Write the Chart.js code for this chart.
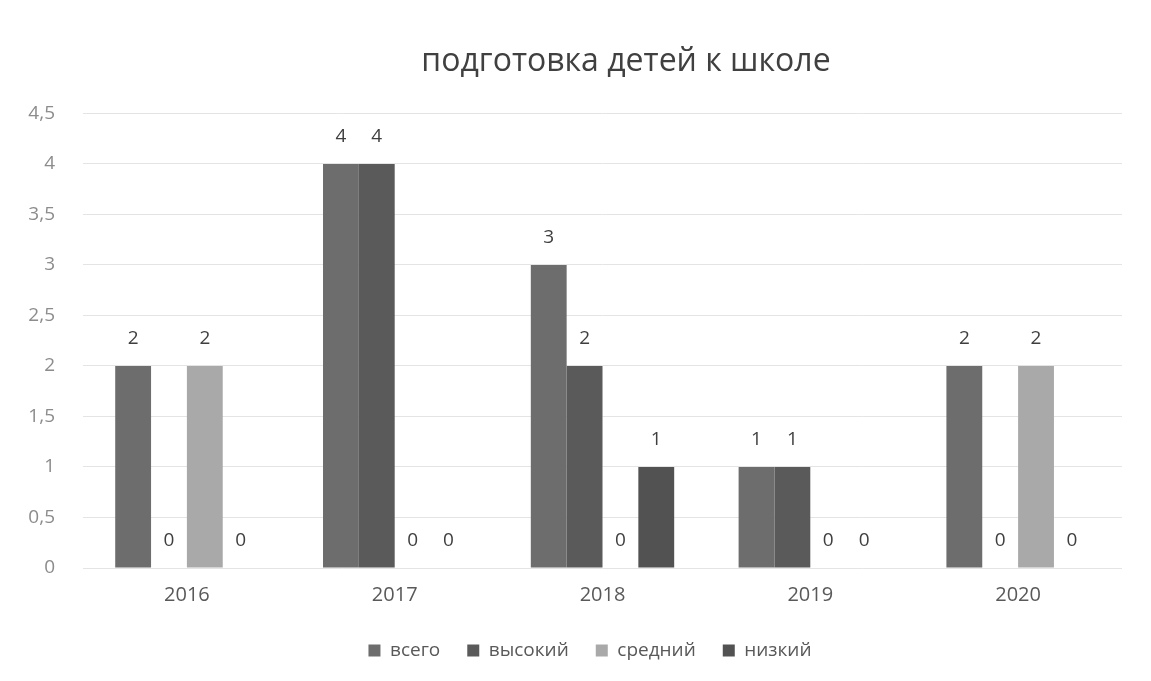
<!DOCTYPE html>
<html>
<head>
<meta charset="utf-8">
<script src="https://cdn.jsdelivr.net/npm/chart.js@4.4.0/dist/chart.umd.min.js"></script>
<style>
  html, body { margin: 0; padding: 0; background: #ffffff; overflow: hidden; }
  #wrap { position: relative; width: 1151px; height: 681px; }
</style>
</head>
<body>
<div id="wrap"><canvas id="chart"></canvas></div>
<script>
const years = ['2016', '2017', '2018', '2019', '2020']
const total = [2, 4, 3, 1, 2]
const high = [0, 4, 2, 1, 0]
const middle = [2, 0, 0, 0, 2]
const low = [0, 0, 1, 0, 0]
const yTicks = [0, 0.5, 1, 1.5, 2, 2.5, 3, 3.5, 4, 4.5]

const font = '"Open Sans", "Noto Sans", sans-serif'

// value labels above every bar, placed from the bar elements
const valueLabels = {
  id: 'valueLabels',
  afterDatasetsDraw(chart){
    const ctx = chart.ctx
    ctx.save()
    ctx.font = '19px ' + font
    ctx.fillStyle = '#3f3f3f'
    ctx.textAlign = 'center'
    ctx.textBaseline = 'middle'
    chart.data.datasets.forEach((ds, i) => {
      chart.getDatasetMeta(i).data.forEach((bar, j) => {
        ctx.fillText(String(ds.data[j]), bar.x, bar.y - 27)
      })
    })
    ctx.restore()
  }
}

// title and legend in the picture sit a little right of the canvas centre
const boxShift = {
  id: 'boxShift',
  afterLayout(chart){
    if (chart.titleBlock) chart.titleBlock.left += 130
    if (chart.legend) chart.legend.left += 58
  }
}

new Chart(document.getElementById('chart'), {
  type: 'bar',
  data: {
    labels: years,
    datasets: [
      { label: 'всего', data: total, backgroundColor: '#6d6d6d' },
      { label: 'высокий', data: high, backgroundColor: '#5a5a5a' },
      { label: 'средний', data: middle, backgroundColor: '#a9a9a9' },
      { label: 'низкий', data: low, backgroundColor: '#525252' },
    ],
  },
  options: {
    responsive: true,
    maintainAspectRatio: false,
    animation: false,
    layout: { padding: { left: 0, right: 29, top: 0, bottom: 11 } },
    datasets: { bar: { barPercentage: 1, categoryPercentage: 0.69 } },
    plugins: {
      title: {
        display: true,
        text: 'подготовка детей к школе',
        color: '#404040',
        font: { family: font, size: 32, weight: 'normal' },
        padding: { top: 43, bottom: 32 },
      },
      legend: {
        position: 'bottom',
        labels: {
          color: '#595959',
          font: { family: font, size: 19 },
          boxWidth: 12,
          boxHeight: 12,
          padding: 27,
        },
      },
      tooltip: { enabled: false },
    },
    scales: {
      x: {
        grid: { display: false },
        border: { display: false },
        ticks: { color: '#595959', font: { family: font, size: 20 }, padding: 7 },
      },
      y: {
        min: 0,
        max: 4.5,
        afterBuildTicks(axis){ axis.ticks = yTicks.map(v => ({ value: v })) },
        afterFit(axis){ axis.width = 83 },
        grid: { color: '#e4e4e4', lineWidth: 1, drawTicks: false },
        border: { display: false },
        ticks: {
          color: '#8c8c8c',
          font: { family: font, size: 19 },
          padding: 28,
          callback: v => String(v).replace('.', ','),
        },
      },
    },
  },
  plugins: [valueLabels, boxShift],
})
</script>
</body>
</html>
